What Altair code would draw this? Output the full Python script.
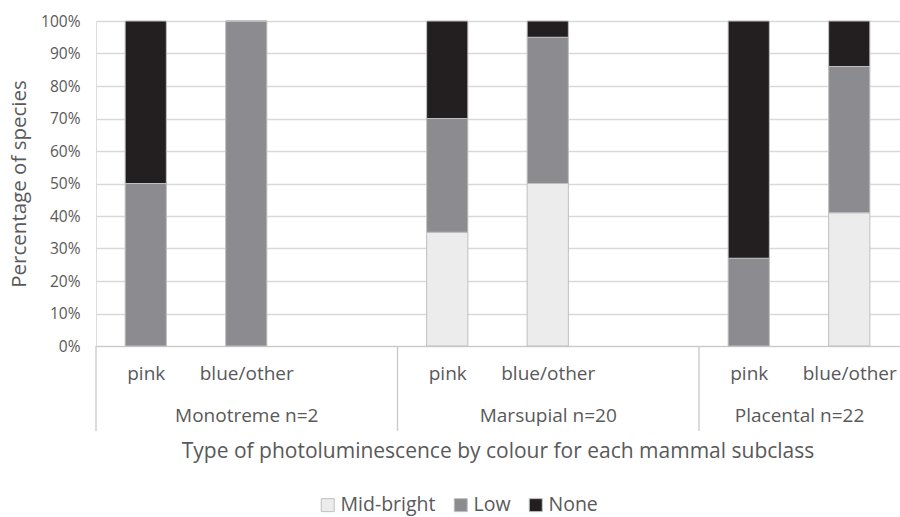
import altair as alt
import pandas as pd

# ---- data ----
groups = ["Monotreme n=2", "Marsupial n=20", "Placental n=22"]
group_start = [0, 3, 6]
group_end = [3, 6, 8]
colours = ["pink", "blue/other", "pink", "blue/other", "pink", "blue/other"]
slots = [0, 1, 3, 4, 6, 7]
mid_bright = [0, 0, 35, 50, 0, 41]
low = [50, 100, 35, 45, 27, 45]
none = [50, 0, 30, 5, 73, 14]
levels = ["Mid-bright", "Low", "None"]
level_colours = ["#ececec", "#8c8c90", "#231f20"]

FONT = "Open Sans"
TXT = "#595959"

rows = []
for i, s in enumerate(slots):
    for k, (lvl, vals) in enumerate(zip(levels, [mid_bright, low, none])):
        rows.append({"slot": s, "x0": s + 0.29, "x1": s + 0.70,
                     "level": lvl, "order": k, "value": vals[i]})
bars_df = pd.DataFrame(rows)
cat_df = pd.DataFrame({"slot": slots, "label": colours})
cat_df["xc"] = cat_df["slot"] + 0.5
grp_df = pd.DataFrame({"group": groups, "start": group_start, "end": group_end})
grp_df["xc"] = (grp_df["start"] + grp_df["end"]) / 2
sep_df = pd.DataFrame({"pos": group_start})

xscale = alt.Scale(domain=[0, 8], nice=False, zero=False)

bars = alt.Chart(bars_df).transform_stack(
    stack="value", groupby=["slot"], as_=["y0", "y1"],
    sort=[alt.SortField("order")]
).mark_bar(stroke="#bfbfbf", strokeWidth=1).encode(
    x=alt.X("x0:Q", scale=xscale,
            axis=alt.Axis(labels=False, ticks=False, grid=False, domain=True,
                          domainColor="#c8c8c8", title=None)),
    x2="x1:Q",
    y=alt.Y("y0:Q", scale=alt.Scale(domain=[0, 100], nice=False),
            axis=alt.Axis(values=list(range(0, 101, 10)),
                          labelExpr="datum.value + '%'",
                          domain=False, ticks=False, labelPadding=16,
                          gridColor="#d9d9d9", gridWidth=1.3,
                          labelFont=FONT, labelFontSize=15.5, labelColor=TXT,
                          title="Percentage of species", titleFont=FONT,
                          titleFontSize=20.5, titleFontWeight="normal",
                          titleColor=TXT, titlePadding=11)),
    y2="y1:Q",
    fill=alt.Fill("level:N", scale=alt.Scale(domain=levels, range=level_colours),
                  legend=alt.Legend(orient="none", direction="horizontal",
                                    legendX=222, legendY=474, title=None,
                                    symbolType="square", symbolSize=169,
                                    symbolStrokeColor="#bfbfbf",
                                    symbolStrokeWidth=1,
                                    labelFont=FONT, labelFontSize=19.5,
                                    labelColor=TXT, labelOffset=3,
                                    columnPadding=15)),
)

cat_text = alt.Chart(cat_df).mark_text(
    font=FONT, fontSize=19, color=TXT, baseline="middle"
).encode(x=alt.X("xc:Q", scale=xscale), y=alt.value(353), text="label:N")

grp_text = alt.Chart(grp_df).mark_text(
    font=FONT, fontSize=19, color=TXT, baseline="middle"
).encode(x=alt.X("xc:Q", scale=xscale), y=alt.value(395), text="group:N")

seps = alt.Chart(sep_df).mark_rule(color="#c8c8c8", strokeWidth=1.3).encode(
    x=alt.X("pos:Q", scale=xscale), y=alt.value(325), y2=alt.value(410)
)

x_title = alt.Chart(pd.DataFrame({"t": ["Type of photoluminescence by colour for each mammal subclass"]})).mark_text(
    font=FONT, fontSize=21, color=TXT, baseline="middle"
).encode(x=alt.value(402), y=alt.value(431), text="t:N")

chart = alt.layer(bars, seps, cat_text, grp_text, x_title).properties(
    width=804, height=325,
    autosize=alt.AutoSizeParams(type="none"),
    padding={"left": 96, "top": 21, "right": 0, "bottom": 171},
).configure_view(stroke=None).configure(background="white")

chart.save("out.html", embed_options={"renderer": "svg", "actions": False})
